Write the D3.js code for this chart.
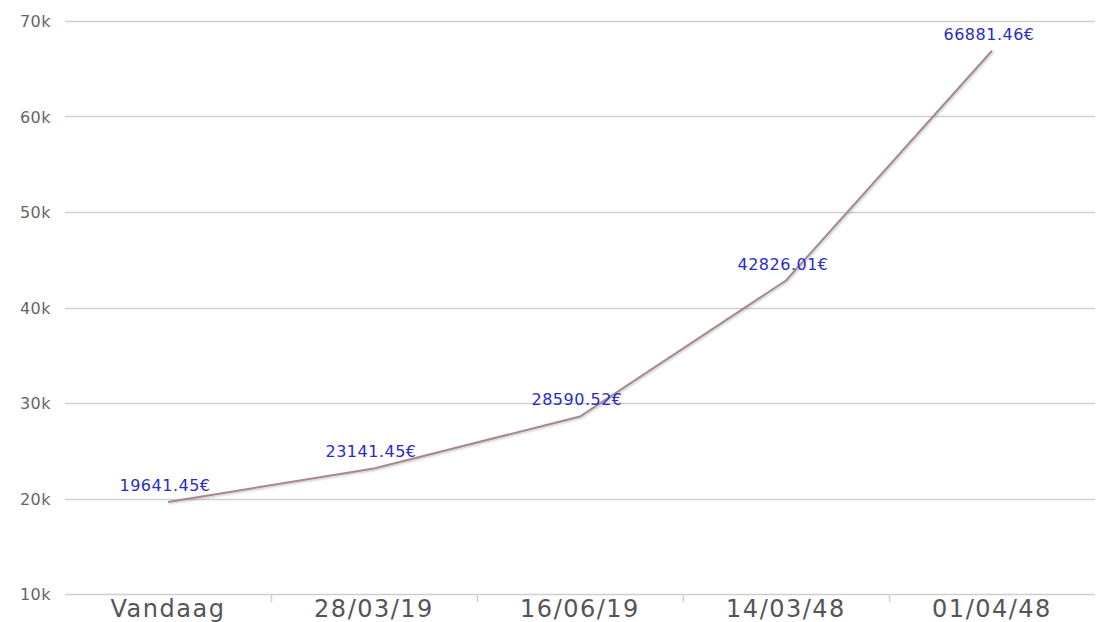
<!DOCTYPE html>
<html>
<head>
<meta charset="utf-8">
<script src="https://cdn.jsdelivr.net/npm/d3@7"></script>
<style>
  body { margin: 0; background: #fff; }
  svg { display: block; font-family: "DejaVu Sans", Verdana, sans-serif; }
</style>
</head>
<body>
<svg id="chart" width="1097" height="622"></svg>
<script>
// categories + values
const categories = ["Vandaag", "28/03/19", "16/06/19", "14/03/48", "01/04/48"];
const values = [19641.45, 23141.45, 28590.52, 42826.01, 66881.46];
const yTicks = [10000, 20000, 30000, 40000, 50000, 60000, 70000];

const width = 1097, height = 622;
const margin = {top: 21, right: 2, bottom: 28, left: 65};

const svg = d3.select("#chart");

const x = d3.scaleBand()
    .domain(categories)
    .range([margin.left, width - margin.right]);

const y = d3.scaleLinear()
    .domain([10000, 70000])
    .range([height - margin.bottom, margin.top]);

// shadow for the line
const defs = svg.append("defs");
const f = defs.append("filter").attr("id", "shadow")
    .attr("x", "-5%").attr("y", "-5%").attr("width", "110%").attr("height", "110%");
f.append("feDropShadow")
    .attr("dx", 1).attr("dy", 1).attr("stdDeviation", 1)
    .attr("flood-color", "#000").attr("flood-opacity", 0.25);

// gridlines
svg.append("g")
    .selectAll("line")
    .data(yTicks)
    .join("line")
    .attr("x1", margin.left)
    .attr("x2", width - margin.right)
    .attr("y1", d => Math.round(y(d)) + 0.5)
    .attr("y2", d => Math.round(y(d)) + 0.5)
    .attr("stroke", "#cfcfcf")
    .attr("stroke-width", 1.5);

// y labels
svg.append("g")
    .selectAll("text")
    .data(yTicks)
    .join("text")
    .attr("x", 51)
    .attr("y", d => y(d) + 6)
    .attr("text-anchor", "end")
    .attr("fill", "#666")
    .attr("font-size", 16)
    .attr("letter-spacing", 0.5)
    .text(d => (d / 1000) + "k");

// x axis: ticks between categories
svg.append("g")
    .selectAll("line")
    .data(categories.slice(1))
    .join("line")
    .attr("x1", d => Math.round(x(d)) + 0.5)
    .attr("x2", d => Math.round(x(d)) + 0.5)
    .attr("y1", height - margin.bottom)
    .attr("y2", height - margin.bottom + 8)
    .attr("stroke", "#d0d0d0")
    .attr("stroke-width", 1.5);

svg.append("g")
    .selectAll("text")
    .data(categories)
    .join("text")
    .attr("x", d => x(d) + x.bandwidth() / 2)
    .attr("y", height - 5)
    .attr("text-anchor", "middle")
    .attr("fill", "#555")
    .attr("font-size", 24)
    .attr("letter-spacing", 1.5)
    .text(d => d);

// line
const line = d3.line()
    .curve(d3.curveLinear)
    .x((d, i) => x(categories[i]) + x.bandwidth() / 2)
    .y(d => y(d));

svg.append("path")
    .attr("fill", "none")
    .attr("stroke", "#a68a8a")
    .attr("stroke-width", 2)
    .attr("filter", "url(#shadow)")
    .attr("d", line(values));

// data labels
svg.append("g")
    .selectAll("text")
    .data(values)
    .join("text")
    .attr("x", (d, i) => x(categories[i]) + x.bandwidth() / 2 - 3)
    .attr("y", d => y(d) - 11)
    .attr("text-anchor", "middle")
    .attr("fill", "#2b2bc8")
    .attr("font-size", 16)
    .attr("letter-spacing", 0.5)
    .text(d => d.toFixed(2) + "€");
</script>
</body>
</html>
